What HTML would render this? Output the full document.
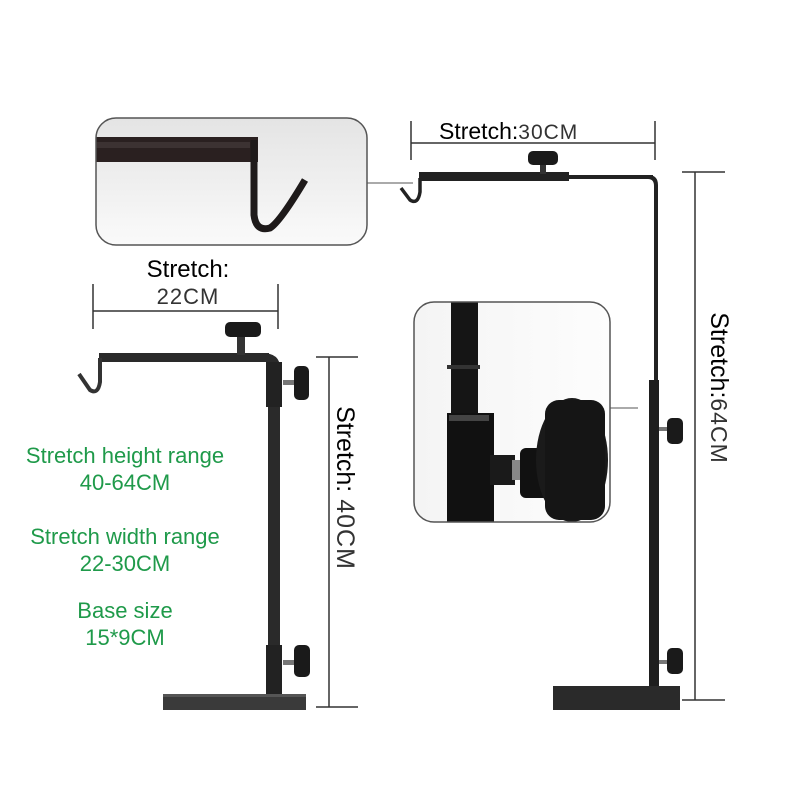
<!DOCTYPE html>
<html><head><style>
html,body{margin:0;padding:0;background:#fff;}
svg{display:block;}
text{font-family:"Liberation Sans",sans-serif;}
</style></head><body>
<svg width="800" height="800" viewBox="0 0 800 800" xmlns="http://www.w3.org/2000/svg">
<defs>
<linearGradient id="g1" x1="0" y1="0" x2="0" y2="1"><stop offset="0" stop-color="#e4e4e4"/><stop offset="1" stop-color="#fafafa"/></linearGradient>
<linearGradient id="g2" x1="0" y1="0" x2="1" y2="0"><stop offset="0" stop-color="#f4f4f4"/><stop offset="1" stop-color="#fdfdfd"/></linearGradient>
<clipPath id="c1"><rect x="96" y="118" width="271" height="127" rx="20"/></clipPath>
<clipPath id="c2"><rect x="414" y="302" width="196" height="220" rx="20"/></clipPath>
</defs>

<!-- Inset 1 -->
<rect x="96" y="118" width="271" height="127" rx="20" fill="url(#g1)"/>
<g clip-path="url(#c1)">
<rect x="90" y="137" width="168" height="25" fill="#2a2020"/>
<rect x="90" y="142" width="160" height="6" fill="#3c3232"/>
<path d="M254 140 L254 215 Q256 232 270 228 Q280 222 305 180" fill="none" stroke="#1e1a1a" stroke-width="7"/>
</g>
<rect x="96" y="118" width="271" height="127" rx="20" fill="none" stroke="#555" stroke-width="1.5"/>
<line x1="367" y1="183" x2="413" y2="183" stroke="#555" stroke-width="1"/>

<!-- Inset 2 -->
<rect x="414" y="302" width="196" height="220" rx="20" fill="url(#g2)"/>
<g clip-path="url(#c2)">
<rect x="451" y="300" width="27" height="115" fill="#151515"/>
<rect x="447" y="365" width="33" height="4" fill="#333"/>
<rect x="447" y="413" width="47" height="112" fill="#111"/>
<rect x="449" y="415" width="40" height="6" fill="#444"/>
<rect x="490" y="455" width="25" height="30" fill="#1a1a1a"/>
<rect x="512" y="460" width="12" height="20" fill="#888"/>
<rect x="520" y="448" width="30" height="50" rx="6" fill="#111"/>
<ellipse cx="572" cy="460" rx="36" ry="62" fill="#1a1a1a"/>
<rect x="545" y="400" width="60" height="120" rx="14" fill="#151515"/>
</g>
<rect x="414" y="302" width="196" height="220" rx="20" fill="none" stroke="#555" stroke-width="1.5"/>
<line x1="610" y1="408" x2="638" y2="408" stroke="#555" stroke-width="1"/>

<!-- Left dimension 22CM -->
<line x1="93" y1="311" x2="278" y2="311" stroke="#333" stroke-width="1.5"/>
<line x1="93" y1="284" x2="93" y2="329" stroke="#333" stroke-width="1.5"/>
<line x1="278" y1="284" x2="278" y2="329" stroke="#333" stroke-width="1.5"/>
<text x="188" y="277" font-size="24" text-anchor="middle" fill="#000">Stretch:</text>
<text x="188" y="304" font-size="22" text-anchor="middle" fill="#333" letter-spacing="1">22CM</text>

<!-- Left stand -->
<rect x="99" y="353" width="170" height="9" fill="#2a2a2a"/>
<path d="M100 358 L100 382 Q98 395 90 390 L79 374" fill="none" stroke="#333" stroke-width="4"/>
<rect x="237" y="335" width="8" height="20" fill="#333"/>
<rect x="225" y="322" width="36" height="15" rx="5" fill="#1a1a1a"/>
<path d="M262 353 Q280 353 280 368 L280 700 L268 700 L268 362 Z" fill="#2a2a2a"/>
<rect x="266" y="362" width="16" height="45" fill="#222"/>
<rect x="283" y="380" width="12" height="5" fill="#777"/>
<rect x="294" y="366" width="15" height="34" rx="5" fill="#1a1a1a"/>
<rect x="266" y="645" width="16" height="55" fill="#222"/>
<rect x="283" y="660" width="12" height="5" fill="#777"/>
<rect x="294" y="645" width="16" height="32" rx="5" fill="#1a1a1a"/>
<rect x="163" y="694" width="143" height="16" fill="#3a3a3a"/>
<rect x="163" y="694" width="143" height="3" fill="#555"/>

<!-- Left vertical dim -->
<line x1="329" y1="357" x2="329" y2="707" stroke="#333" stroke-width="1.5"/>
<line x1="316" y1="357" x2="358" y2="357" stroke="#333" stroke-width="1.5"/>
<line x1="316" y1="707" x2="358" y2="707" stroke="#333" stroke-width="1.5"/>
<text transform="translate(337,488) rotate(90)" font-size="25" text-anchor="middle" fill="#000">Stretch: <tspan fill="#333" letter-spacing="1">40CM</tspan></text>

<!-- Green text -->
<g font-size="22" fill="#1f9a4a" text-anchor="middle">
<text x="125" y="463">Stretch height range</text>
<text x="125" y="490">40-64CM</text>
<text x="125" y="544">Stretch width range</text>
<text x="125" y="571">22-30CM</text>
<text x="125" y="618">Base size</text>
<text x="125" y="645">15*9CM</text>
</g>

<!-- Right dimension 30CM -->
<line x1="411" y1="143" x2="655" y2="143" stroke="#333" stroke-width="1.5"/>
<line x1="411" y1="121" x2="411" y2="160" stroke="#333" stroke-width="1.5"/>
<line x1="655" y1="121" x2="655" y2="160" stroke="#333" stroke-width="1.5"/>
<text x="439" y="139" font-size="23" fill="#000">Stretch:<tspan fill="#333" font-size="21" letter-spacing="1">30CM</tspan></text>

<!-- Right stand -->
<rect x="419" y="172" width="150" height="9" fill="#222"/>
<rect x="565" y="175" width="88" height="4" fill="#222"/>
<path d="M420 178 L420 192 Q418 205 410 200 L401 188" fill="none" stroke="#222" stroke-width="3.5"/>
<rect x="540" y="160" width="6" height="14" fill="#333"/>
<rect x="528" y="151" width="30" height="14" rx="5" fill="#1a1a1a"/>
<path d="M648 175 Q658 175 658 185 L658 690 L654 690 L654 186 Q654 179 648 179 Z" fill="#222"/>
<rect x="649" y="380" width="10" height="310" fill="#1e1e1e"/>
<rect x="659" y="427" width="10" height="4" fill="#777"/>
<rect x="667" y="418" width="16" height="26" rx="5" fill="#1a1a1a"/>
<rect x="659" y="660" width="10" height="4" fill="#777"/>
<rect x="667" y="648" width="16" height="26" rx="5" fill="#1a1a1a"/>
<rect x="553" y="686" width="127" height="24" fill="#2a2a2a"/>

<!-- Right vertical dim -->
<line x1="695" y1="172" x2="695" y2="700" stroke="#333" stroke-width="1.5"/>
<line x1="682" y1="172" x2="725" y2="172" stroke="#333" stroke-width="1.5"/>
<line x1="682" y1="700" x2="725" y2="700" stroke="#333" stroke-width="1.5"/>
<text transform="translate(711,388) rotate(90)" font-size="25" text-anchor="middle" fill="#000">Stretch:<tspan fill="#333" font-size="23" letter-spacing="1">64CM</tspan></text>
</svg>
</body></html>
